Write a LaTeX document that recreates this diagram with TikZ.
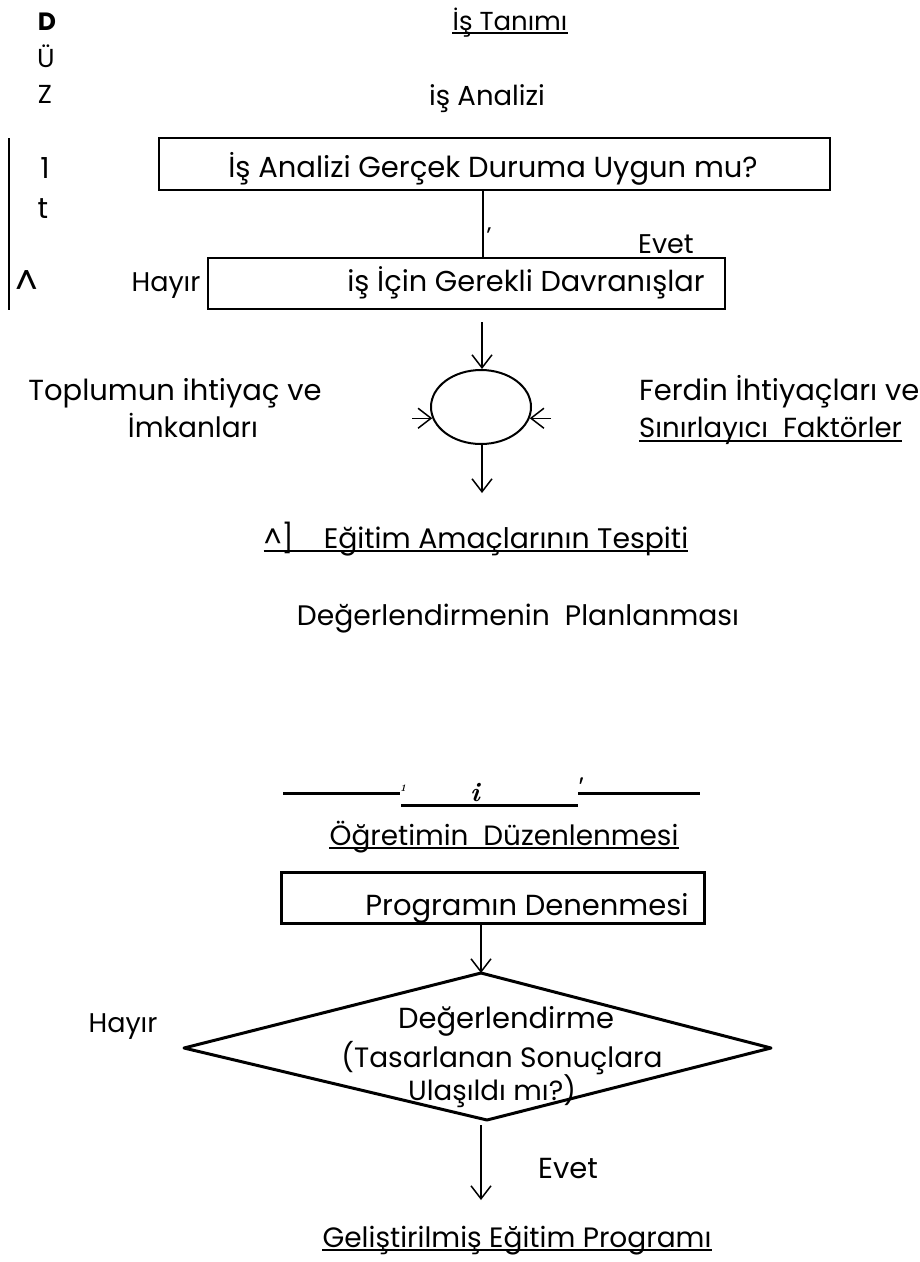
\documentclass[tikz,border=0pt]{standalone}
\usepackage{fontspec}
\setmainfont{Poppins}
\newfontfamily\lmr{Latin Modern Roman}
\usetikzlibrary{arrows.meta,fit,shapes.geometric}
\begin{document}
\begin{tikzpicture}[x=1pt,y=-1pt,
  txt/.style={inner sep=0pt,anchor=base,font=\fontsize{#1}{#1}\selectfont},
  txt/.default=28,
  frame/.style={draw,inner sep=0pt,line width=1.3pt},
  ul/.style={line width=1.6pt},
  arr/.style={line width=1.5pt,-{Straight Barb[length=13pt,width=20pt,line width=1.5pt]}},
  heavy/.style={line width=3pt}]
\useasboundingbox (0,0) rectangle (920,1262);

% left margin letters and bar
\node[txt=25,font=\fontsize{25}{25}\selectfont\bfseries] (vD) at (47,30) {D};
\node[txt=26] (vU) at (46,67) {Ü};
\node[txt=26] (vZ) at (45,103) {Z};
\node[txt=29] (v1) at (45,178) {1};
\node[txt=29] (vt) at (43,218) {t};
\node[txt=36,anchor=center] (vc) at (27,283) {\^{}};
\coordinate (barT) at (9,138);
\coordinate (barB) at (9,310);
\draw[line width=1.3pt] (barT) -- (barB);

% top titles
\node[txt=26] (tanim) at (510,30) {İş Tanımı};
\draw[ul] ([yshift=-3pt]tanim.base west) -- ([yshift=-3pt]tanim.base east);
\node[txt=27.5] (analiz) at (487,105) {iş Analizi};

% question box
\coordinate (q1) at (159,138);
\coordinate (q2) at (830,190);
\node[frame,fit=(q1)(q2)] (qbox) {};
\node[txt=29] (qtxt) at (493,177) {İş Analizi Gerçek Duruma Uygun mu?};

% behaviours box
\coordinate (b1) at (208,258);
\coordinate (b2) at (725,309);
\node[frame,fit=(b1)(b2)] (bbox) {};
\node[txt=28.8] (btxt) at (526,291) {iş İçin Gerekli Davranışlar};
\node[txt=27] (hayir1) at (166,291) {Hayır};
\node[txt=27] (evet1) at (666,253) {Evet};

\coordinate (cx) at (483,0);
\draw[line width=1.3pt] (qbox.south -| cx) -- (bbox.north -| cx);
\node[txt=24] (tick) at (489,244) {\char"0027};

% merging circle
\node[draw,ellipse,line width=2pt,minimum width=100pt,minimum height=74pt,inner sep=0pt] (ell) at (481,407) {};
\coordinate (inT) at (482,322);
\coordinate (outB) at (482,493);
\coordinate (inL) at (412,0);
\coordinate (inR) at (551,0);
\draw[arr] (inT) -- (ell.north -| inT);
\draw[arr] (ell.193 -| inL) -- (ell.193);
\draw[arr] (ell.-13 -| inR) -- (ell.-13);
\draw[arr] (ell.south -| outB) -- (outB);

\node[txt=29] (top1) at (175,400) {Toplumun ihtiyaç ve};
\node[txt=28] (top2) at (193,437) {İmkanları};
\node[txt=29,anchor=base west] (fer1) at (639,400) {Ferdin İhtiyaçları ve};
\node[txt=27.6,anchor=base west] (fer2) at (639,437) {Sınırlayıcı\ \ Faktörler};
\draw[ul] ([yshift=-4pt]fer2.base west) -- ([yshift=-4pt]fer2.base east);

\node[txt=28.3] (amac) at (476,548) {\^{}]\ \ \ \ Eğitim Amaçlarının Tespiti};
\draw[ul] ([yshift=-3pt]amac.base west) -- ([yshift=-3pt]amac.base east);
\node[txt=28.2] (plan) at (518,625) {Değerlendirmenin\ \ Planlanması};

% broken rule
\coordinate (r1) at (283,793);
\coordinate (r2) at (400,793);
\coordinate (r3) at (401,805);
\coordinate (r4) at (578,805);
\coordinate (r5) at (578,793);
\coordinate (r6) at (700,793);
\draw[heavy] (r1) -- (r2);
\draw[heavy] (r3) -- (r4);
\draw[heavy] (r5) -- (r6);
\node[inner sep=0pt,font=\lmr\fontsize{10}{10}\selectfont\bfseries\itshape] (m1) at (403,788) {1};
\node[inner sep=0pt,font=\lmr\fontsize{27}{27}\selectfont\bfseries\itshape] (m2) at (475,792) {i};
\node[inner sep=0pt,font=\lmr\fontsize{24}{24}\selectfont\bfseries\itshape] (m3) at (578,786) {'};

\node[txt=27.9] (duzen) at (504,845) {Öğretimin\ \ Düzenlenmesi};
\draw[ul] ([yshift=-3pt]duzen.base west) -- ([yshift=-3pt]duzen.base east);

% trial box
\coordinate (p1) at (281,872);
\coordinate (p2) at (704,923);
\node[frame,line width=3pt,fit=(p1)(p2)] (pbox) {};
\node[txt=29] (ptxt) at (527,915) {Programın Denenmesi};

% decision
\coordinate (dT) at (481,973);
\coordinate (dR) at (771,1048);
\coordinate (dB) at (487,1120);
\coordinate (dL) at (184,1048);
\draw[heavy,line join=round] (dT) -- (dR) -- (dB) -- (dL) -- cycle;
\coordinate (ax) at (481,0);
\draw[arr] (pbox.south -| ax) -- (dT);
\coordinate (fin) at (481,1200);
\draw[arr] ([yshift=-5pt]dB -| ax) -- (fin);
\node[txt=29] (d1) at (506,1028) {Değerlendirme};
\node[txt=28] (d2) at (502,1067) {(Tasarlanan Sonuçlara};
\node[txt=27.7] (d3) at (492,1100) {Ulaşıldı mı?)};
\node[txt=27] (hayir2) at (123,1032) {Hayır};
\node[txt=29] (evet2) at (568,1178) {Evet};

\node[txt=28] (son) at (517,1247) {Geliştirilmiş Eğitim Programı};
\draw[ul] ([yshift=-3pt]son.base west) -- ([yshift=-3pt]son.base east);
\end{tikzpicture}
\end{document}
